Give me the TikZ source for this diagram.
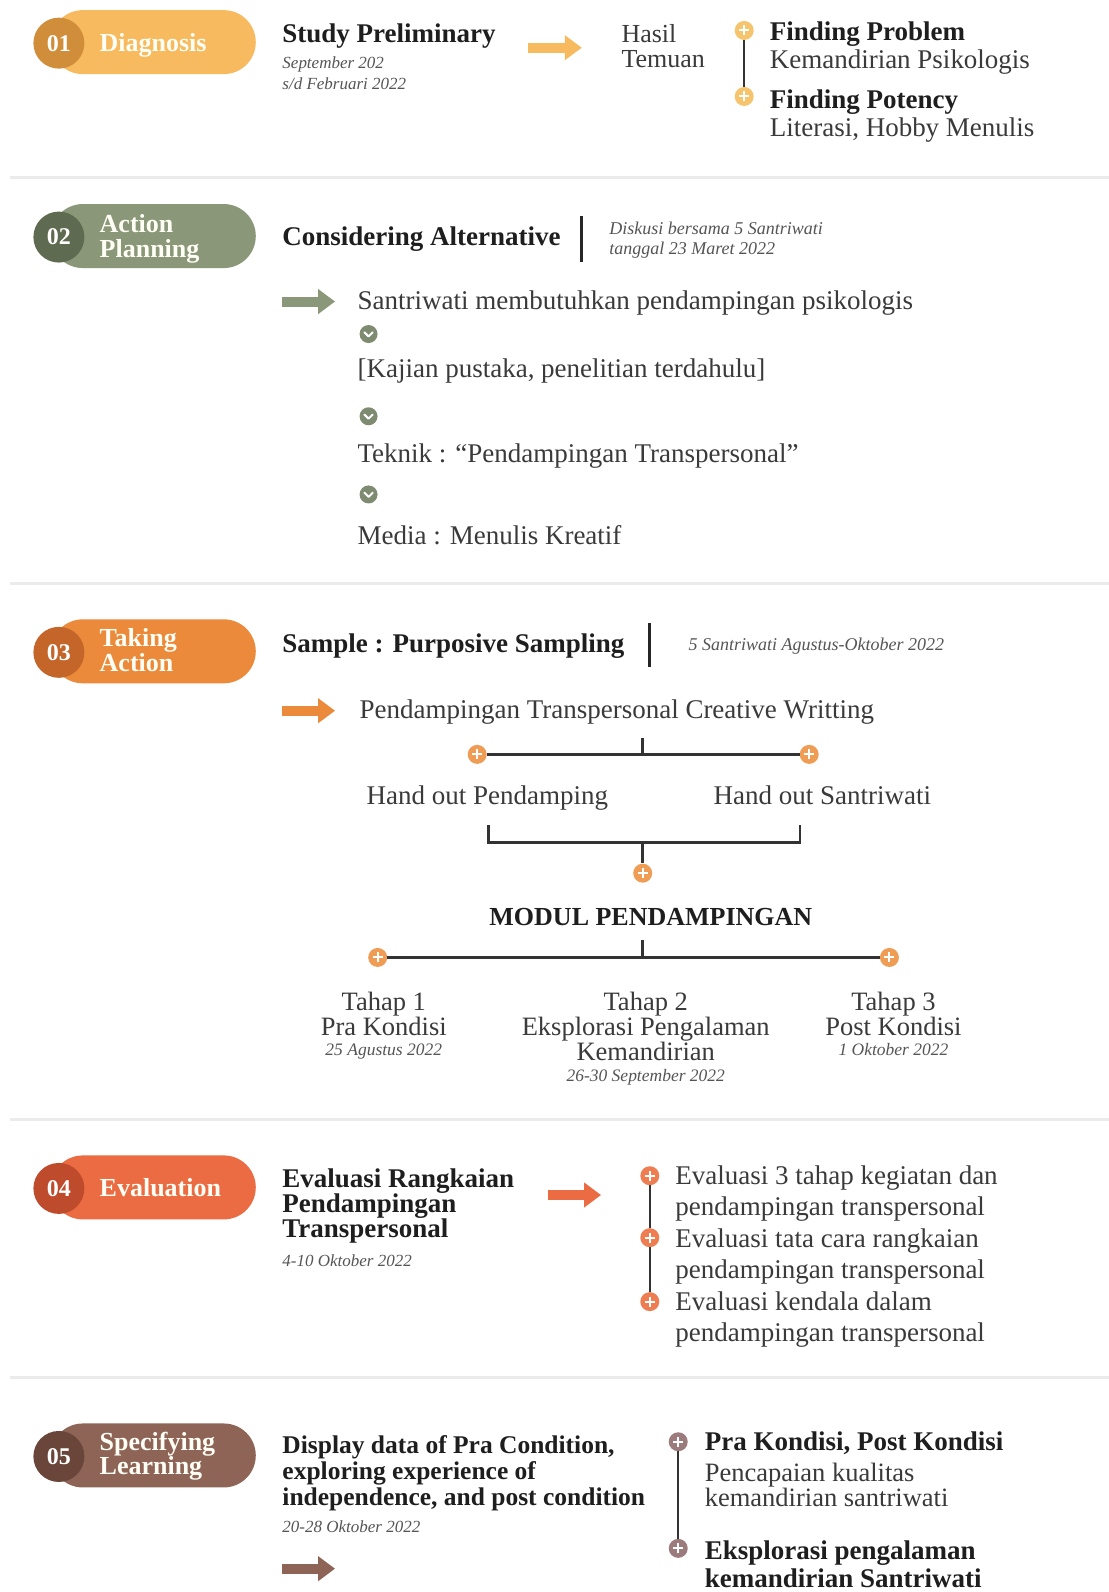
\documentclass[tikz,border=0pt]{standalone}
\usepackage{fontspec}
\setmainfont{Liberation Serif}
\usetikzlibrary{arrows.meta,shapes.misc}
\definecolor{c1}{HTML}{F7BA5E}\definecolor{c1d}{HTML}{D08E3B}\definecolor{c1i}{HTML}{F6C46C}
\definecolor{c2}{HTML}{8A9779}\definecolor{c2d}{HTML}{5F6B50}\definecolor{c2i}{HTML}{7F8B70}
\definecolor{c3}{HTML}{EC8A3B}\definecolor{c3d}{HTML}{C4652A}\definecolor{c3i}{HTML}{EF9C55}
\definecolor{c4}{HTML}{EB6C43}\definecolor{c4d}{HTML}{BE4B2C}\definecolor{c4i}{HTML}{EE7D52}
\definecolor{c5}{HTML}{8D6456}\definecolor{c5d}{HTML}{6A4539}\definecolor{c5i}{HTML}{9C7B7D}
\definecolor{ink}{HTML}{1E1E1E}\definecolor{body}{HTML}{3A3A3A}\definecolor{dim}{HTML}{555555}
\tikzset{
  pillbox/.style={rounded rectangle, minimum width=205pt, minimum height=64pt, inner sep=0pt, draw=none},
  numdot/.style={circle, minimum size=51pt, inner sep=0pt, text=white, font=\fontsize{24}{24}\selectfont\bfseries},
  pilltxt/.style={inner sep=0pt, text=white!96!yellow, font=\fontsize{26}{25}\selectfont\bfseries, align=left, anchor=west},
  head/.style={inner sep=0pt, text=ink, font=\fontsize{27}{27}\selectfont\bfseries, anchor=mid west},
  bodytxt/.style={inner sep=0pt, text=body, font=\fontsize{27}{27}\selectfont, anchor=mid west},
  datei/.style={inner sep=0pt, text=dim, font=\fontsize{17}{21}\selectfont\itshape, anchor=mid west},
  plusdot/.style={circle, fill=#1, minimum size=19pt, inner sep=0pt, path picture={
     \draw[white, line width=2pt] ([xshift=-5pt]path picture bounding box.center) -- ([xshift=5pt]path picture bounding box.center)
       ([yshift=-5pt]path picture bounding box.center) -- ([yshift=5pt]path picture bounding box.center);}},
  chevdot/.style={circle, fill=#1, minimum size=18pt, inner sep=0pt, path picture={
     \draw[white, line width=2pt, line cap=round, line join=round] ([shift={(-4.2pt,1.8pt)}]path picture bounding box.center) -- ([shift={(0pt,-2.4pt)}]path picture bounding box.center) -- ([shift={(4.2pt,1.8pt)}]path picture bounding box.center);}},
  fat/.style={draw=#1, line width=10pt, -{Triangle[length=17pt, width=24pt]}},
  link/.style={draw=black!80, line width=2.5pt},
  bar/.style={draw=black!85, line width=3pt},
  sepline/.style={draw=black!8, line width=3pt},
}
\newcommand{\stagepill}[5]{%
  \node[pillbox, fill=#3] (#1pill) at (151,#2) {};
  \node[numdot, fill=#4] (#1num) at (58,#2+1) {#5};}
\begin{document}
\begin{tikzpicture}[x=1.0156pt, y=-1.0156pt]
\useasboundingbox[fill=white] (0,0) rectangle (1092,1568);
% separators
\draw[sepline] (10,175) -- (1092,175);
\draw[sepline] (10,575) -- (1092,575);
\draw[sepline] (10,1103) -- (1092,1103);
\draw[sepline] (10,1357) -- (1092,1357);

% ===== Section 1
\stagepill{s1}{41.5}{c1}{c1d}{01}
\node[pilltxt, anchor=mid west] (s1lab) at (98,48.5) {Diagnosis};
\node[head] (s1h) at (278,39.5) {Study Preliminary};
\node[datei, anchor=west, align=left] (s1d) at (278,72.5) {September 202\\s/d Februari 2022};
\coordinate (a1s) at (520,47); \coordinate (a1e) at (573,47);
\draw[fat=c1] (a1s) -- (a1e);
\node[bodytxt, anchor=west, align=left, font=\fontsize{26}{25}\selectfont] (s1hasil) at (612,45.5) {Hasil\\Temuan};
\node[plusdot=c1i] (s1p1) at (733,30) {};
\node[plusdot=c1i] (s1p2) at (733,95) {};
\draw[link] (s1p1) -- (s1p2);
\node[bodytxt, anchor=west, align=left, font=\fontsize{27}{28}\selectfont] (s1f1) at (758,47) {\textcolor{ink}{\bfseries Finding Problem}\\Kemandirian Psikologis};
\node[bodytxt, anchor=west, align=left, font=\fontsize{27}{28}\selectfont] (s1f2) at (758,114) {\textcolor{ink}{\bfseries Finding Potency}\\Literasi, Hobby Menulis};

% ===== Section 2
\stagepill{s2}{232.5}{c2}{c2d}{02}
\node[pilltxt] (s2lab) at (98,235) {Action\\Planning};
\node[head] (s2h) at (278,240) {Considering Alternative};
\draw[bar] (573,213) -- (573,258);
\node[datei, anchor=west, align=left, font=\fontsize{18}{20}\selectfont\itshape] (s2d) at (600,237) {Diskusi bersama 5 Santriwati\\tanggal 23 Maret 2022};
\coordinate (a2s) at (278,297); \coordinate (a2e) at (330,297);
\draw[fat=c2] (a2s) -- (a2e);
\node[bodytxt] (s2t1) at (352,302.5) {Santriwati membutuhkan pendampingan psikologis};
\node[chevdot=c2i] (s2c1) at (363,329) {};
\node[bodytxt] (s2t2) at (352,370) {[Kajian pustaka, penelitian terdahulu]};
\node[chevdot=c2i] (s2c2) at (363,410) {};
\node[bodytxt] (s2t3) at (352,453) {Teknik : “Pendampingan Transpersonal”};
\node[chevdot=c2i] (s2c3) at (363,487) {};
\node[bodytxt] (s2t4) at (352,534) {Media : Menulis Kreatif};

% ===== Section 3
\stagepill{s3}{641.5}{c3}{c3d}{03}
\node[pilltxt] (s3lab) at (98,640) {Taking\\Action};
\node[head] (s3h) at (278,640) {Sample : Purposive Sampling};
\draw[bar] (640,614) -- (640,657);
\node[datei, font=\fontsize{18}{20}\selectfont\itshape] (s3d) at (678,638) {5 Santriwati Agustus-Oktober 2022};
\coordinate (a3s) at (278,700); \coordinate (a3e) at (330,700);
\draw[fat=c3] (a3s) -- (a3e);
\node[bodytxt] (s3t) at (354,705.5) {Pendampingan Transpersonal Creative Writting};
\coordinate (t1) at (633,727); \coordinate (j1) at (633,743);
\draw[link] (t1) -- (j1);
\node[plusdot=c3i] (s3p1) at (470,743) {};
\node[plusdot=c3i] (s3p2) at (797,743) {};
\draw[link] (s3p1) -- (s3p2);
\node[bodytxt, anchor=mid] (s3ho1) at (480,790) {Hand out Pendamping};
\node[bodytxt, anchor=mid] (s3ho2) at (810,790) {Hand out Santriwati};
\coordinate (b1) at (481,813); \coordinate (b2) at (788,813); \coordinate (bj) at (633,830);
\draw[link] (b1) |- (bj) -| (b2);
\node[plusdot=c3i] (s3p3) at (633,860) {};
\draw[link] (bj) -- (s3p3);
\node[head, anchor=mid, font=\fontsize{26}{26}\selectfont\bfseries] (s3mod) at (641,909) {MODUL PENDAMPINGAN};
\coordinate (t2) at (633,926); \coordinate (j2) at (633,943);
\draw[link] (t2) -- (j2);
\node[plusdot=c3i] (s3p4) at (372,943) {};
\node[plusdot=c3i] (s3p5) at (876,943) {};
\draw[link] (s3p4) -- (s3p5);
\node[bodytxt, anchor=center, align=center, font=\fontsize{26.5}{25}\selectfont] (th1) at (378,998.5) {Tahap 1\\Pra Kondisi};
\node[datei, anchor=mid, font=\fontsize{17.5}{18}\selectfont\itshape] (th1d) at (378,1037) {25 Agustus 2022};
\node[bodytxt, anchor=center, align=center, font=\fontsize{26.5}{25}\selectfont] (th2) at (636,1011) {Tahap 2\\Eksplorasi Pengalaman\\Kemandirian};
\node[datei, anchor=mid, font=\fontsize{17.5}{18}\selectfont\itshape] (th2d) at (636,1063) {26-30 September 2022};
\node[bodytxt, anchor=center, align=center, font=\fontsize{26.5}{25}\selectfont] (th3) at (880,998.5) {Tahap 3\\Post Kondisi};
\node[datei, anchor=mid, font=\fontsize{17.5}{18}\selectfont\itshape] (th3d) at (880,1037) {1 Oktober 2022};

% ===== Section 4
\stagepill{s4}{1169.5}{c4}{c4d}{04}
\node[pilltxt, anchor=mid west] (s4lab) at (98,1176) {Evaluation};
\node[head, anchor=west, align=left, font=\fontsize{27}{25}\selectfont\bfseries] (s4h) at (278,1188) {Evaluasi Rangkaian\\Pendampingan\\Transpersonal};
\node[datei] (s4d) at (278,1245) {4-10 Oktober 2022};
\coordinate (a4s) at (540,1177); \coordinate (a4e) at (592,1177);
\draw[fat=c4] (a4s) -- (a4e);
\node[plusdot=c4i] (s4p1) at (640,1158) {};
\node[plusdot=c4i] (s4p2) at (640,1219) {};
\node[plusdot=c4i] (s4p3) at (640,1282) {};
\draw[link] (s4p1) -- (s4p2);
\draw[link] (s4p2) -- (s4p3);
\node[bodytxt, anchor=west, align=left, font=\fontsize{27}{31}\selectfont] (s4e1) at (665,1175.5) {Evaluasi 3 tahap kegiatan dan\\pendampingan transpersonal};
\node[bodytxt, anchor=west, align=left, font=\fontsize{27}{31}\selectfont] (s4e2) at (665,1237.5) {Evaluasi tata cara rangkaian\\pendampingan transpersonal};
\node[bodytxt, anchor=west, align=left, font=\fontsize{27}{31}\selectfont] (s4e3) at (665,1299.5) {Evaluasi kendala dalam\\pendampingan transpersonal};

% ===== Section 5
\stagepill{s5}{1433.5}{c5}{c5d}{05}
\node[pilltxt, font=\fontsize{26}{24}\selectfont\bfseries] (s5lab) at (98,1434) {Specifying\\Learning};
\node[head, anchor=west, align=left, font=\fontsize{25.5}{26}\selectfont\bfseries] (s5h) at (278,1451) {Display data of Pra Condition,\\exploring experience of\\independence, and post condition};
\node[datei] (s5d) at (278,1507) {20-28 Oktober 2022};
\coordinate (a5s) at (278,1545); \coordinate (a5e) at (330,1545);
\draw[fat=c5] (a5s) -- (a5e);
\node[plusdot=c5i] (s5p1) at (668,1420) {};
\node[plusdot=c5i] (s5p2) at (668,1525) {};
\draw[link] (s5p1) -- (s5p2);
\node[head] (s5k1) at (694,1426) {Pra Kondisi, Post Kondisi};
\node[bodytxt, anchor=west, align=left, font=\fontsize{26.5}{24}\selectfont] (s5k2) at (694,1463) {Pencapaian kualitas\\kemandirian santriwati};
\node[head, anchor=west, align=left, font=\fontsize{27}{28}\selectfont\bfseries] (s5k3) at (694,1541) {Eksplorasi pengalaman\\kemandirian Santriwati};
\end{tikzpicture}
\end{document}
